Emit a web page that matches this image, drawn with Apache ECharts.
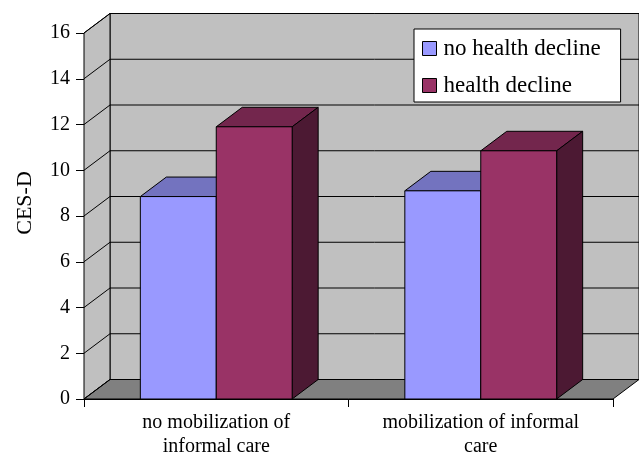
<!DOCTYPE html>
<html>
<head>
<meta charset="utf-8">
<script src="https://cdn.jsdelivr.net/npm/echarts@6/dist/echarts.min.js"></script>
<style>
  html, body { margin: 0; padding: 0; background: #fff; }
  #chart { width: 639px; height: 454px; }
</style>
</head>
<body>
<div id="chart"></div>
<script>
// data
const categories = ['no mobilization of\ninformal care', 'mobilization of informal\ncare'];
const seriesNames = ['no health decline', 'health decline'];
const noDecline = [8.85, 9.1];
const decline = [11.9, 10.85];
const yTicks = [0, 2, 4, 6, 8, 10, 12, 14, 16];

// 3d look
const DX = 26;
const DY = -19.5;
const BAR_RATIO = 0.287;
const FONT = '"Liberation Serif", serif';

const faces = [
    { front: '#9999ff', top: '#7373bf', side: '#4d4d80' },
    { front: '#993366', top: '#73264d', side: '#4c1933' }
];

const chart = echarts.init(document.getElementById('chart'));

// back wall, side wall, floor and gridlines
function renderWalls(params, api) {
    const band = api.size([1, 0])[0];
    const yMin = yTicks[0], yMax = yTicks[yTicks.length - 1];
    const x0 = api.coord([0, yMin])[0] - band / 2;
    const x1 = api.coord([categories.length - 1, yMin])[0] + band / 2;
    const yb = api.coord([0, yMin])[1];
    const yt = api.coord([0, yMax])[1];
    const line = { stroke: '#000', lineWidth: 1 };
    const children = [
        { type: 'rect', shape: { x: x0 + DX, y: yt + DY, width: x1 - x0, height: yb - yt },
          style: { fill: '#c0c0c0', stroke: '#000', lineWidth: 1 } },
        { type: 'polygon', shape: { points: [[x0, yt], [x0 + DX, yt + DY], [x0 + DX, yb + DY], [x0, yb]] },
          style: { fill: '#c0c0c0', stroke: '#000', lineWidth: 1 } },
        { type: 'polygon', shape: { points: [[x0, yb], [x0 + DX, yb + DY], [x1 + DX, yb + DY], [x1, yb]] },
          style: { fill: '#808080', stroke: '#000', lineWidth: 1 } }
    ];
    yTicks.forEach(v => {
        const y = api.coord([0, v])[1];
        children.push({ type: 'line', shape: { x1: x0, y1: y, x2: x0 + DX, y2: y + DY }, style: line });
        children.push({ type: 'line', shape: { x1: x0 + DX, y1: y + DY, x2: x1 + DX, y2: y + DY }, style: line });
    });
    return { type: 'group', children };
}

function barRenderer(idx) {
    const f = faces[idx];
    return function (params, api) {
        const cat = api.value(0);
        const base = api.coord([cat, 0]);
        const top = api.coord([cat, api.value(1)]);
        const w = api.size([1, 0])[0] * BAR_RATIO;
        const xl = base[0] - w + idx * w;
        const xr = xl + w;
        const y0 = base[1], y1 = top[1];
        const edge = { stroke: '#000', lineWidth: 1 };
        return {
            type: 'group',
            children: [
                { type: 'polygon', shape: { points: [[xl, y1], [xl + DX, y1 + DY], [xr + DX, y1 + DY], [xr, y1]] },
                  style: Object.assign({ fill: f.top }, edge) },
                { type: 'polygon', shape: { points: [[xr, y1], [xr + DX, y1 + DY], [xr + DX, y0 + DY], [xr, y0]] },
                  style: Object.assign({ fill: f.side }, edge) },
                { type: 'rect', shape: { x: xl, y: y1, width: w, height: y0 - y1 },
                  style: Object.assign({ fill: f.front }, edge) }
            ]
        };
    };
}

const option = {
    backgroundColor: '#fff',
    animation: false,
    textStyle: { fontFamily: FONT, color: '#000' },
    grid: { left: 84, top: 33, width: 529, height: 366, outerBoundsMode: 'none', containLabel: false },
    xAxis: {
        type: 'category',
        data: categories,
        axisLine: { lineStyle: { color: '#000', width: 1 } },
        axisTick: { show: true, length: 8, lineStyle: { color: '#000' } },
        axisLabel: { color: '#000', fontFamily: FONT, fontSize: 20, lineHeight: 24, margin: 12 },
        splitLine: { show: false }
    },
    yAxis: {
        type: 'value',
        min: 0,
        max: 16,
        interval: 2,
        axisLine: { show: true, lineStyle: { color: '#000', width: 1 } },
        axisTick: { show: true, length: 8, lineStyle: { color: '#000' } },
        axisLabel: { color: '#000', fontFamily: FONT, fontSize: 20, margin: 14 },
        splitLine: { show: false }
    },
    legend: {
        data: seriesNames,
        orient: 'vertical',
        left: 414,
        top: 29,
        padding: [8, 20, 5, 8],
        itemWidth: 14,
        itemHeight: 14,
        itemGap: 14,
        icon: 'rect',
        backgroundColor: '#fff',
        borderColor: '#000',
        borderWidth: 1,
        borderRadius: 0,
        itemStyle: { borderColor: '#000', borderWidth: 1 },
        formatter: name => '{t|' + name + '}',
        textStyle: {
            color: '#000', fontFamily: FONT, fontSize: 23,
            rich: { t: { color: '#000', fontFamily: FONT, fontSize: 23, padding: [0, 0, 0, 2] } }
        }
    },
    graphic: [{
        type: 'text',
        x: 25,
        y: 203,
        rotation: Math.PI / 2,
        style: { text: 'CES-D', font: '22px "Liberation Serif"', fill: '#000', align: 'center', verticalAlign: 'middle' }
    }],
    series: [
        {
            type: 'custom',
            z: 1,
            silent: true,
            renderItem: renderWalls,
            data: [[0, 0]],
            encode: { x: 0, y: 1 }
        },
        {
            type: 'custom',
            name: seriesNames[0],
            z: 2,
            itemStyle: { color: faces[0].front },
            renderItem: barRenderer(0),
            data: noDecline.map((v, i) => [i, v]),
            encode: { x: 0, y: 1 }
        },
        {
            type: 'custom',
            name: seriesNames[1],
            z: 2,
            itemStyle: { color: faces[1].front },
            renderItem: barRenderer(1),
            data: decline.map((v, i) => [i, v]),
            encode: { x: 0, y: 1 }
        }
    ]
};

chart.setOption(option);
</script>
</body>
</html>
